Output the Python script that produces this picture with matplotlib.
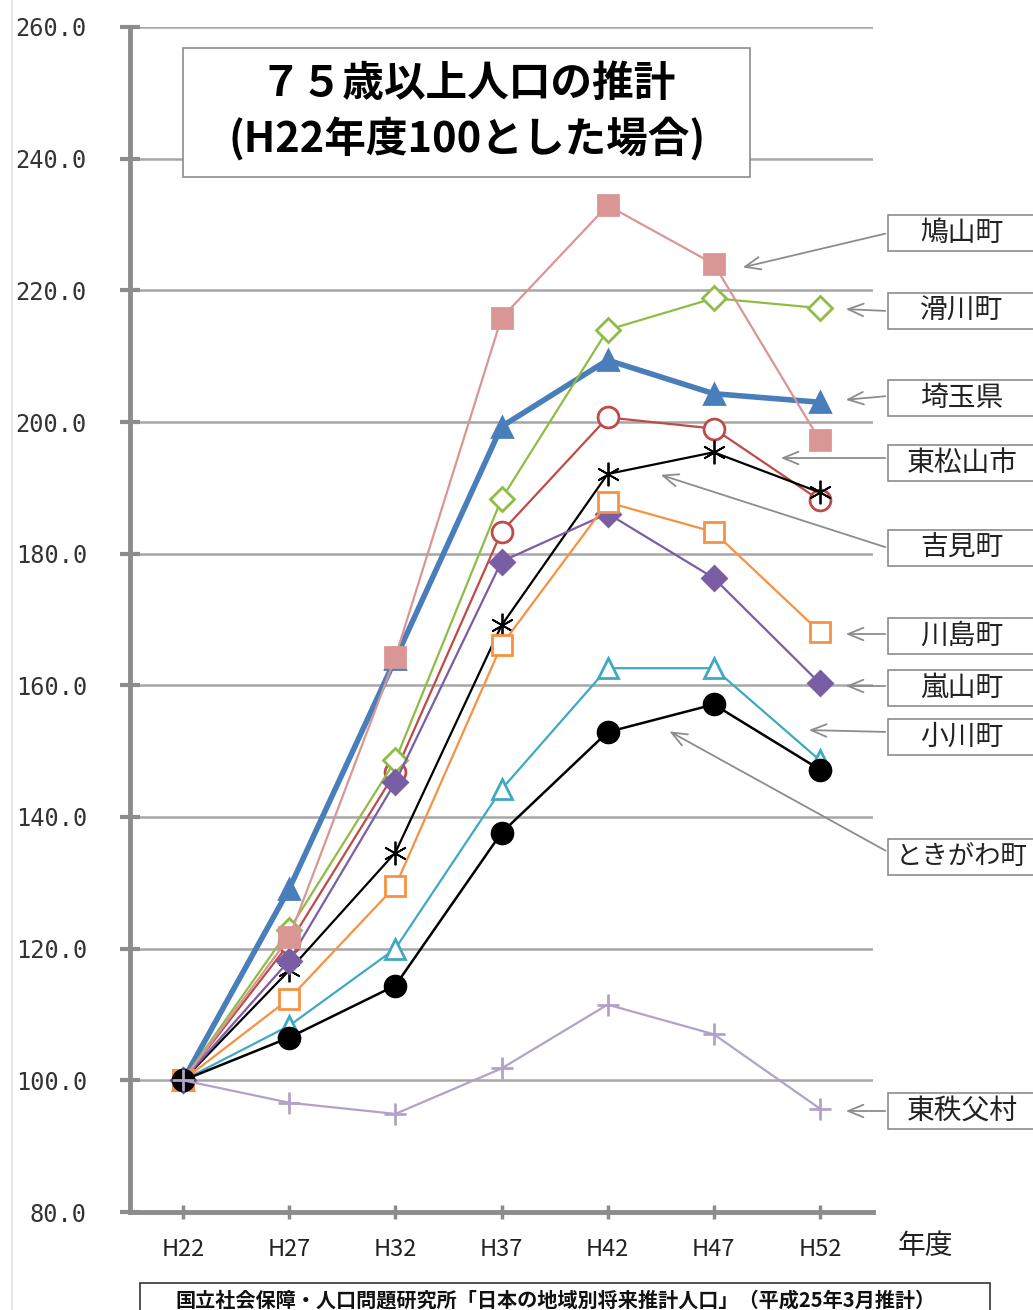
import matplotlib
matplotlib.use("Agg")
import matplotlib.pyplot as plt
from matplotlib.patches import Rectangle
import numpy as np

plt.rcParams['font.family'] = ['Noto Sans CJK JP', 'DejaVu Sans']

# Fiscal-year categories (Heisei era)
years = ["H22", "H27", "H32", "H37", "H42", "H47", "H52"]

# Projected population aged 75+ (index, H22 = 100)
saitama      = [100, 129.1, 164.0, 199.3, 209.4, 204.3, 203.0]
higashimatsuyama = [100, 120.8, 146.8, 183.3, 200.7, 199.0, 188.1]
yoshimi      = [100, 116.7, 134.6, 169.1, 192.1, 195.4, 189.3]
ogawa        = [100, 108.3, 120.0, 144.2, 162.6, 162.6, 148.6]
namegawa     = [100, 122.9, 148.6, 188.3, 214.0, 218.8, 217.3]
ranzan       = [100, 118.2, 145.3, 178.8, 186.1, 176.3, 160.3]
hatoyama     = [100, 121.7, 164.3, 215.8, 232.9, 224.0, 197.2]
kawajima     = [100, 112.4, 129.5, 166.1, 187.8, 183.3, 168.1]
tokigawa     = [100, 106.5, 114.4, 137.6, 152.9, 157.1, 147.2]
higashichichibu = [100, 96.6, 94.9, 101.8, 111.5, 107.0, 95.7]

W, H = 1033, 1310
fig = plt.figure(figsize=(W / 100, H / 100), dpi=100)
fig.patch.set_facecolor("white")

def fx(px):
    return px / W

def fy(py):
    return 1 - py / H

ax = fig.add_axes([fx(130), fy(1212), fx(873) - fx(130), fy(27) - fy(1212)])
x = np.arange(len(years))

series = [
    # values, color, marker, markersize, filled, linewidth, marker edge width
    (saitama, "#4a7ebb", "^", 15, True, 4.0, 2.0),
    (higashimatsuyama, "#be4b48", "o", 15, False, 1.6, 2.0),
    (yoshimi, "#000000", (6, 2, 0), 17, True, 1.6, 1.3),
    (ogawa, "#3fa9c4", "^", 15, False, 1.6, 2.0),
    (namegawa, "#8fbc44", "D", 12, False, 1.6, 2.0),
    (ranzan, "#7a5ea5", "D", 12, True, 1.6, 2.0),
    (hatoyama, "#d99694", "s", 15, True, 1.6, 2.0),
    (kawajima, "#f59342", "s", 15, False, 1.6, 2.0),
    (tokigawa, "#000000", "o", 15, True, 1.8, 2.0),
    (higashichichibu, "#b3a2c7", "+", 16, True, 1.6, 2.0),
]

for vals, col, mk, ms, filled, lw, mew in series:
    ax.plot(x, vals, color=col, lw=lw, marker=mk, ms=ms,
            markerfacecolor=col if filled else "white",
            markeredgecolor=col, markeredgewidth=mew, clip_on=False)

ax.set_xlim(-0.5, 6.5)
ax.set_ylim(80, 260)
ax.set_yticks(np.arange(80, 261, 20))
ax.set_yticklabels([f"{v:.1f}" for v in np.arange(80, 261, 20)],
                   family="DejaVu Sans Mono", fontsize=17, color="#333333")
ax.set_xticks(x)
ax.set_xticklabels(years, fontsize=17, color="#222222")
ax.yaxis.grid(True, color="#a6a6a6", lw=1.8)
ax.set_axisbelow(True)
for s in ["top", "right"]:
    ax.spines[s].set_visible(False)
for s in ["left", "bottom"]:
    ax.spines[s].set_color("#8c8c8c")
    ax.spines[s].set_linewidth(3.5)
ax.tick_params(axis="y", direction="inout", length=14, width=3, color="#8c8c8c", pad=24)
ax.tick_params(axis="x", direction="inout", length=10, width=2.5, color="#8c8c8c", pad=14)

# Axis unit label
fig.text(fx(925), fy(1246), "年度", fontsize=20, ha="center", va="center", color="#222222")

# Title box
fig.patches.append(Rectangle((fx(183), fy(177)), fx(750) - fx(183), fy(48) - fy(177),
                             transform=fig.transFigure, facecolor="white",
                             edgecolor="#8c8c8c", lw=1.2, zorder=5))
fig.text(fx(468), fy(84), "７５歳以上人口の推計", fontsize=30, fontweight="bold",
         ha="center", va="center", zorder=6)
fig.text(fx(467), fy(140), "(H22年度100とした場合)", fontsize=30, fontweight="bold",
         ha="center", va="center", zorder=6)

# Series name boxes with arrows pointing into the plot
names = ["鳩山町", "滑川町", "埼玉県", "東松山市", "吉見町",
         "川島町", "嵐山町", "小川町", "ときがわ町", "東秩父村"]
name_size = [20, 20, 20, 20, 20, 20, 20, 20, 19, 20]
box_y = [233, 311, 398, 463, 548, 636, 688, 737, 857, 1111]
tail_y = [233, 311, 396, 458, 548, 634, 686, 732, 852, 1111]
tips = [(740, 268), (843, 309), (843, 400), (778, 458), (658, 474),
        (843, 634), (843, 686), (806, 730), (667, 730), (843, 1111)]

for name, fs, by, ty, (tx, tyy) in zip(names, name_size, box_y, tail_y, tips):
    fig.patches.append(Rectangle((fx(888), fy(by + 18)), fx(1040) - fx(888), fy(by - 18) - fy(by + 18),
                                 transform=fig.transFigure, facecolor="white",
                                 edgecolor="#8c8c8c", lw=1.2, zorder=5))
    fig.text(fx(962), fy(by), name, fontsize=fs, ha="center", va="center",
             color="#222222", zorder=6)
    ax.annotate("", xy=(fx(tx), fy(tyy)), xycoords="figure fraction",
                xytext=(fx(888), fy(ty)), textcoords="figure fraction",
                arrowprops=dict(arrowstyle="->,head_length=1.1,head_width=0.45",
                                color="#8c8c8c", lw=1.3),
                annotation_clip=False)

# Source box at the bottom
fig.patches.append(Rectangle((fx(140), fy(1320)), fx(990) - fx(140), fy(1283) - fy(1320),
                             transform=fig.transFigure, facecolor="white",
                             edgecolor="#333333", lw=1.2, zorder=5))
fig.text(fx(556), fy(1300),
         "国立社会保障・人口問題研究所「日本の地域別将来推計人口」（平成25年3月推計）",
         fontsize=14.5, fontweight="bold", ha="center", va="center", color="#111111", zorder=6)

# Thin frame line at the far left
fig.add_artist(plt.Line2D([fx(12), fx(12)], [0, 1], transform=fig.transFigure,
                          color="#dde3f0", lw=1.2))

fig.savefig("out.png", dpi=100)
